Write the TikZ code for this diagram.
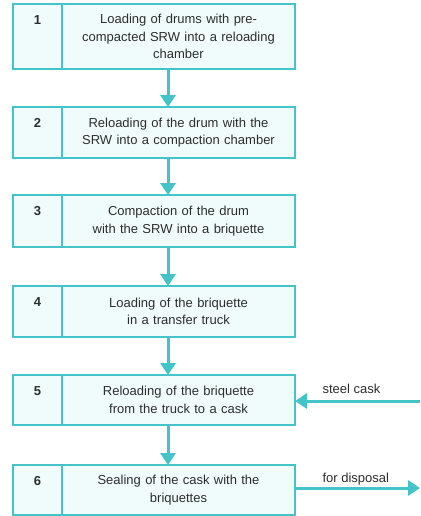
\documentclass[tikz,border=0pt]{standalone}
\usepackage{fontspec}
\setmainfont{Liberation Sans}
\usetikzlibrary{positioning, arrows.meta, calc}
\definecolor{teal}{RGB}{68,196,200}
\definecolor{pale}{RGB}{240,252,252}
\definecolor{ink}{RGB}{45,45,45}

\begin{document}
\begin{tikzpicture}[x=1pt, y=1pt, node distance=38pt, font=\fontsize{13}{17.5}\selectfont, text=ink]
    \tikzstyle{stepbox} = [rectangle, draw=teal, fill=pale, line width=2.4pt, inner sep=4pt, outer sep=0pt, text width=225pt, align=center]
    \tikzstyle{numbox} = [rectangle, draw=teal, fill=pale, line width=2.4pt, inner sep=0pt, outer sep=0pt, minimum width=49pt]
    \tikzstyle{num} = [anchor=center, yshift=-16pt, font=\fontsize{13}{15}\selectfont\bfseries]
    \tikzstyle{arrow} = [teal, line width=3pt, -{Triangle[width=15pt, length=12pt]}]
    \useasboundingbox (0,0) rectangle (420,-516);
    \node (step1) [stepbox, minimum height=65pt] at (178.5,-36.5) {Loading of drums with pre-\\compacted SRW into a reloading\\chamber};
    \node (step2) [stepbox, minimum height=51pt, below=of step1] {Reloading of the drum with the\\SRW into a compaction chamber};
    \node (step3) [stepbox, minimum height=52pt, below=37pt of step2] {Compaction of the drum\\with the SRW into a briquette};
    \node (step4) [stepbox, minimum height=51pt, below=39pt of step3] {Loading of the briquette\\in a transfer truck};
    \node (step5) [stepbox, minimum height=50pt, below=of step4] {Reloading of the briquette\\from the truck to a cask};
    \node (step6) [stepbox, minimum height=50pt, below=40pt of step5] {Sealing of the cask with the\\briquettes};
    \node (num1) [numbox, minimum height=65pt, left=0pt of step1, label={[num]north:1}] {};
    \node (num2) [numbox, minimum height=51pt, left=0pt of step2, label={[num]north:2}] {};
    \node (num3) [numbox, minimum height=52pt, left=0pt of step3, label={[num]north:3}] {};
    \node (num4) [numbox, minimum height=51pt, left=0pt of step4, label={[num]north:4}] {};
    \node (num5) [numbox, minimum height=50pt, left=0pt of step5, label={[num]north:5}] {};
    \node (num6) [numbox, minimum height=50pt, left=0pt of step6, label={[num]north:6}] {};
    \coordinate (caskin) at (420,-401);
    \coordinate (disposal) at (420,-488);
    \node (casklabel) [anchor=base west] at (319,-393) {steel cask};
    \node (disposallabel) [anchor=base west] at (319,-482) {for disposal};
    \draw [arrow] ([xshift=-10.5pt]step1.south) -- ([xshift=-10.5pt]step2.north);
    \draw [arrow] ([xshift=-10.5pt]step2.south) -- ([xshift=-10.5pt]step3.north);
    \draw [arrow] ([xshift=-10.5pt]step3.south) -- ([xshift=-10.5pt]step4.north);
    \draw [arrow] ([xshift=-10.5pt]step4.south) -- ([xshift=-10.5pt]step5.north);
    \draw [arrow] ([xshift=-10.5pt]step5.south) -- ([xshift=-10.5pt]step6.north);
    \draw [arrow] (caskin) -- (caskin -| step5.east);
    \draw [arrow] (disposal -| step6.east) -- (disposal);
\end{tikzpicture}
\end{document}
